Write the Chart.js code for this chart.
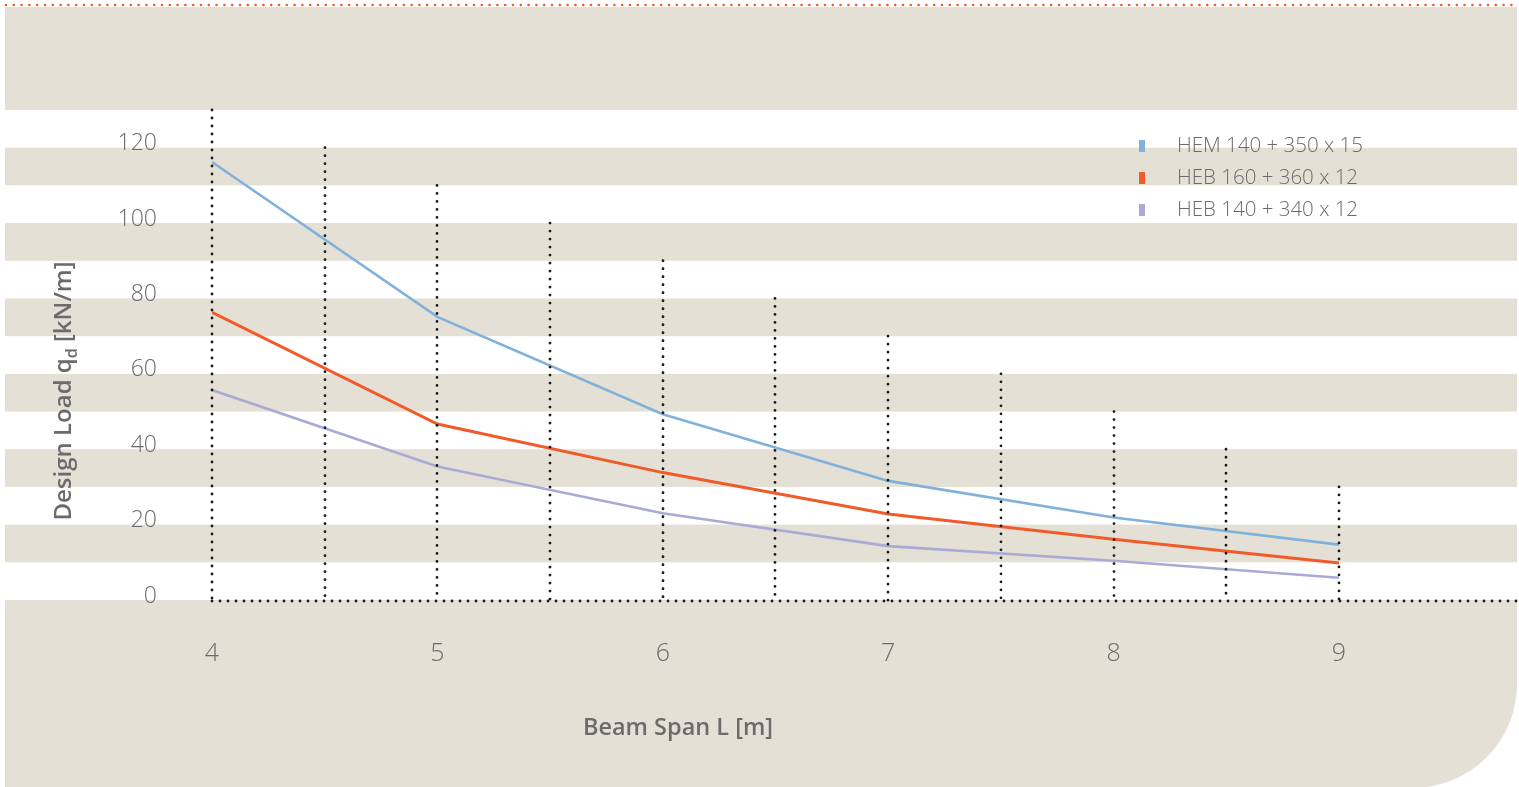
<!DOCTYPE html>
<html>
<head>
<meta charset="utf-8">
<script src="https://cdn.jsdelivr.net/npm/chart.js@4.4.1/dist/chart.umd.min.js"></script>
<style>
  html, body { margin: 0; padding: 0; background: #ffffff; }
  canvas { display: block; }
</style>
</head>
<body>
<canvas id="loadChart" width="1519" height="787"></canvas>
<script>
// Beam spans [m] at which the design load was evaluated
const spans = [4, 5, 6, 7, 8, 9];

// Design load q_d [kN/m] per section
const seriesNames = ['HEM 140 + 350 x 15', 'HEB 160 + 360 x 12', 'HEB 140 + 340 x 12'];
const hem140_350x15 = [116.2, 75.1, 49.3, 31.6, 21.9, 14.7];
const heb160_360x12 = [76.3, 46.7, 33.8, 22.8, 16.1, 9.8];
const heb140_340x12 = [55.7, 35.4, 23.0, 14.3, 10.4, 5.9];
const seriesColors = ['#80b1da', '#f15a29', '#a9abd6'];

// Dotted guide posts: position on the span axis and the load they reach
const guideSpans = [4, 4.5, 5, 5.5, 6, 6.5, 7, 7.5, 8, 8.5, 9];
const guideTops = [130, 120, 110, 100, 90, 80, 70, 60, 50, 40, 30];

// Axis ticks
const xTickValues = [4, 5, 6, 7, 8, 9];
const yTickValues = [0, 20, 40, 60, 80, 100, 120];

const BEIGE = '#e5e0d5';
const TEXT = '#6b6b6b';
const FONT = '"Open Sans", "Noto Sans", sans-serif';

const seriesValues = [hem140_350x15, heb160_360x12, heb140_340x12];

const datasets = seriesValues.map((vals, i) => ({
  label: seriesNames[i],
  data: spans.map((s, j) => ({ x: s, y: vals[j] })),
  borderColor: seriesColors[i],
  backgroundColor: seriesColors[i],
  borderWidth: i === 1 ? 3 : 2.6,
  pointRadius: 0,
  tension: 0,
  fill: false
}));

function dotted(ctx, x1, y1, x2, y2, color, gap, width) {
  ctx.save();
  ctx.strokeStyle = color;
  ctx.lineWidth = width;
  ctx.lineCap = 'round';
  ctx.setLineDash([0, gap]);
  ctx.beginPath();
  ctx.moveTo(x1, y1);
  ctx.lineTo(x2, y2);
  ctx.stroke();
  ctx.restore();
}

// Panel, alternating bands and the orange rule along the top
const backdrop = {
  id: 'backdrop',
  beforeDraw(chart) {
    const { ctx, width, height, scales: { y } } = chart;
    ctx.save();
    ctx.fillStyle = '#ffffff';
    ctx.fillRect(0, 0, width, height);

    const L = 5, T = 7, R = 1517, B = 788, r = 104;
    ctx.fillStyle = BEIGE;
    ctx.beginPath();
    ctx.moveTo(L, T);
    ctx.lineTo(R, T);
    ctx.lineTo(R, B - r);
    ctx.arc(R - r, B - r, r, 0, Math.PI / 2);
    ctx.lineTo(L, B);
    ctx.closePath();
    ctx.fill();

    ctx.fillStyle = '#ffffff';
    for (let v = 0; v < 130; v += 20) {
      const top = y.getPixelForValue(v + 10);
      const bot = y.getPixelForValue(v);
      ctx.fillRect(L, top, R - L, bot - top);
    }
    ctx.restore();

    dotted(ctx, 6, 5, width, 5, '#f15a29', 7.8, 2.6);
  }
};

// Dotted guide posts and base line
const guides = {
  id: 'guides',
  afterDatasetsDraw(chart) {
    const { ctx, width, scales: { x, y } } = chart;
    const y0 = y.getPixelForValue(0) + 1;
    guideSpans.forEach((s, i) => {
      const px = Math.round(x.getPixelForValue(s));
      dotted(ctx, px, y.getPixelForValue(guideTops[i]), px, y0, '#1a1a1a', 8, 2.8);
    });
    dotted(ctx, Math.round(x.getPixelForValue(guideSpans[0])), y0, width, y0, '#1a1a1a', 8, 2.8);
  }
};

// Legend entries and axis titles
const annotations = {
  id: 'annotations',
  afterDraw(chart) {
    const { ctx } = chart;
    ctx.save();
    chart.data.datasets.forEach((ds, i) => {
      const cy = 146 + i * 32;
      ctx.fillStyle = ds.borderColor;
      ctx.fillRect(1139, cy - 6, 6, 12);
      ctx.fillStyle = TEXT;
      ctx.font = '300 20.5px ' + FONT;
      ctx.textAlign = 'left';
      ctx.textBaseline = 'middle';
      ctx.fillText(ds.label, 1177, cy);
    });

    ctx.fillStyle = TEXT;
    ctx.font = '600 23.5px ' + FONT;
    ctx.textAlign = 'center';
    ctx.textBaseline = 'middle';
    ctx.fillText('Beam Span L [m]', 678, 728);

    // Vertical title with subscript
    const mainFont = '600 24px ' + FONT;
    const subFont = '600 16px ' + FONT;
    const parts = [
      { t: 'Design Load q', f: mainFont, dy: 0 },
      { t: 'd', f: subFont, dy: 6 },
      { t: ' [kN/m]', f: mainFont, dy: 0 }
    ];
    let total = 0;
    parts.forEach(p => { ctx.font = p.f; p.w = ctx.measureText(p.t).width; total += p.w; });
    ctx.translate(71, 391);
    ctx.rotate(-Math.PI / 2);
    ctx.textAlign = 'left';
    ctx.textBaseline = 'alphabetic';
    let cx = -total / 2;
    parts.forEach(p => {
      ctx.font = p.f;
      ctx.fillText(p.t, cx, p.dy);
      cx += p.w;
    });
    ctx.restore();
  }
};

new Chart(document.getElementById('loadChart'), {
  type: 'line',
  data: { datasets },
  options: {
    responsive: false,
    animation: false,
    devicePixelRatio: 1,
    layout: { padding: { top: 110, right: 2, left: 0, bottom: 0 } },
    plugins: { legend: { display: false }, tooltip: { enabled: false } },
    scales: {
      x: {
        type: 'linear',
        min: 4,
        max: 9.79,
        afterBuildTicks: s => { s.ticks = xTickValues.map(v => ({ value: v })); },
        afterFit: s => { s.height = 187; },
        grid: { display: false, drawTicks: false },
        border: { display: false },
        ticks: {
          color: TEXT,
          font: { family: FONT, size: 25, weight: '300' },
          padding: 39,
          maxRotation: 0,
          autoSkip: false
        }
      },
      y: {
        type: 'linear',
        min: 0,
        max: 130,
        afterBuildTicks: s => { s.ticks = yTickValues.map(v => ({ value: v })); },
        afterFit: s => { s.width = 212; },
        grid: { display: false, drawTicks: false },
        border: { display: false },
        ticks: {
          color: TEXT,
          font: { family: FONT, size: 23, weight: '300' },
          padding: 55,
          labelOffset: -4
        }
      }
    }
  },
  plugins: [backdrop, guides, annotations]
});
</script>
</body>
</html>
